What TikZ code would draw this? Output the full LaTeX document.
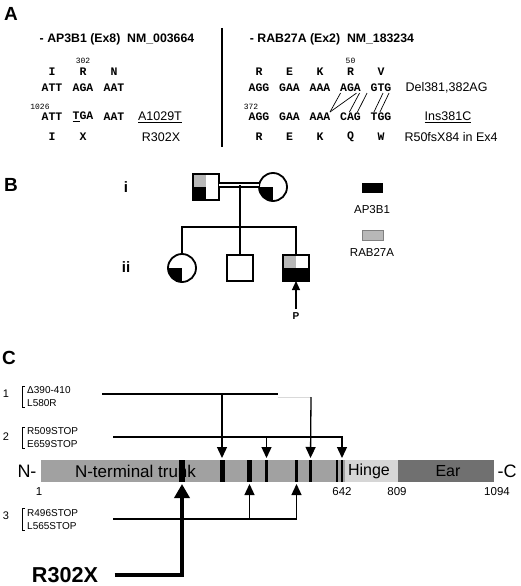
\documentclass[tikz,border=0pt]{standalone}
\usepackage{fontspec}
\setmainfont{Liberation Sans}
\setmonofont{Liberation Mono}
\usetikzlibrary{arrows.meta}
\newcommand\fsz[1]{\fontsize{#1}{#1}\selectfont}
\definecolor{trunkgray}{gray}{0.63}
\definecolor{hingegray}{gray}{0.84}
\definecolor{eargray}{gray}{0.44}
\definecolor{raggray}{gray}{0.72}
\tikzset{
  panel/.style={font=\bfseries\fsz{19}},
  hdr/.style={font=\bfseries\fsz{12.3}},
  cod/.style={font=\ttfamily\bfseries\fsz{11.5}, inner sep=1pt},
  numlab/.style={font=\ttfamily\fsz{8}},
  lab/.style={font=\fsz{12.5}},
  ped/.style={line width=1.8pt},
  male/.style={draw, line width=1.8pt, minimum size=26pt, inner sep=0pt, outer sep=0pt, fill=white},
  female/.style={male, circle, minimum size=28pt},
  qbl/.style={path picture={\fill[black] (path picture bounding box.center) rectangle (path picture bounding box.south west);}},
  father/.style={path picture={
    \fill[raggray] (path picture bounding box.center) rectangle (path picture bounding box.north west);
    \fill[black] (path picture bounding box.center) rectangle (path picture bounding box.south west);}},
  patient/.style={path picture={
    \fill[raggray] (path picture bounding box.center) rectangle (path picture bounding box.north west);
    \fill[black] (path picture bounding box.east) rectangle (path picture bounding box.south west);}},
  seg/.style={minimum height=22pt, inner sep=0pt, outer sep=0pt, anchor=west},
  stripe/.style={fill=black, minimum height=22pt, inner sep=0pt, outer sep=0pt},
  brk/.style={font=\fsz{10}, anchor=west, inner sep=0pt},
  mut/.style={line width=1.3pt},
  arr/.style={-{Triangle[length=11pt,width=10pt]}}
}
\begin{document}
\begin{tikzpicture}[x=1pt,y=-1pt]
\useasboundingbox (0,0) rectangle (520,586);
% ---- A: sequences
\node[panel] (pa) at (11,13.5) {A};
\node[hdr] (hl) at (117,39) {- AP3B1 (Ex8)~~NM\_003664};
\node[hdr] (hr) at (332,39) {- RAB27A (Ex2)~~NM\_183234};
\draw[line width=1.8pt] (222,28) -- (222,147);
\node[numlab] (n302) at (83,61) {302};
\node[numlab] (n1026) at (40,107) {1026};
\foreach \x/\t [count=\i] in {52/I,83/R,114/N} \node[cod] (la\i) at (\x,72) {\t};
\foreach \x/\t [count=\i] in {52/ATT,83/AGA,114/AAT} \node[cod] (lb\i) at (\x,88) {\t};
\foreach \x/\t [count=\i] in {52/ATT,83/\underline{T}GA,114/AAT} \node[cod] (lc\i) at (\x,117) {\t};
\foreach \x/\t [count=\i] in {52/I,83/X} \node[cod] (ld\i) at (\x,137) {\t};
\node[lab] (lmut) at (160,117) {\underline{A1029T}};
\node[lab] (lprot) at (161,137) {R302X};
% right gene
\node[numlab] (n50) at (350.5,61) {50};
\node[numlab] (n372) at (251,107) {372};
\foreach \x/\t [count=\i] in {259/R,289.5/E,320/K,350.5/R,381/V} \node[cod] (ra\i) at (\x,72) {\t};
\foreach \x/\t [count=\i] in {259/AGG,289.5/GAA,320/AAA,350.5/AGA,381/GTG} \node[cod] (rb\i) at (\x,88) {\t};
\foreach \x/\t [count=\i] in {259/AGG,289.5/GAA,320/AAA,350.5/CAG,381/TGG} \node[cod] (rc\i) at (\x,117) {\t};
\foreach \x/\t [count=\i] in {259/R,289.5/E,320/K,350.5/Q,381/W} \node[cod] (rd\i) at (\x,137) {\t};
\node[lab, anchor=west] (rdel) at (402,88) {Del381,382AG};
\node[lab] (rins) at (448,117) {\underline{Ins381C}};
\node[lab, anchor=west] (rprot) at (401,137) {R50fsX84 in Ex4};
% shifted reading frame
\draw[line width=0.7pt] ([xshift=-10pt]rb4.south) -- ([xshift=10pt]rc3.north);
\draw[line width=0.7pt] ([xshift=6pt]rb4.south) -- ([xshift=10pt]rc3.north);
\draw[line width=0.7pt] ([xshift=9pt]rb4.south) -- ([xshift=-1pt]rc4.north);
\draw[line width=0.7pt] ([xshift=-14pt]rb5.south) -- ([xshift=7pt]rc4.north);
\draw[line width=0.7pt] ([xshift=2pt]rb5.south) -- ([xshift=-7pt]rc5.north);
\draw[line width=0.7pt] ([xshift=8pt]rb5.south) -- ([xshift=-1pt]rc5.north);
% ---- B: pedigree
\node[panel] (pb) at (11,185) {B};
\node[font=\bfseries\fsz{15}] (g1) at (126,187) {i};
\node[font=\bfseries\fsz{15}] (g2) at (126,267) {ii};
\node[male, father] (fa) at (206,187) {};
\node[female, qbl] (mo) at (273,187) {};
\node[female, qbl] (d1) at (182,268) {};
\node[male] (s1) at (240,268) {};
\node[male, patient] (pt) at (296,268) {};
\draw[double, double distance=2.2pt, line width=1.6pt] ([yshift=2pt]fa.east) -- ([yshift=2pt]mo.west);
\coordinate (mid) at (240,185);
\coordinate (sib) at (240,227);
\draw[ped] (mid) -- (sib) -- (s1.north);
\draw[ped] (d1.north) -- (d1.north |- sib) -- (pt.north |- sib) -- (pt.north);
\node[font=\bfseries\fsz{10}] (plab) at (296,316) {P};
\draw[line width=1.2pt, -{Triangle[length=9pt,width=8pt]}] (plab.north) -- (pt.south);
% legend
\node[fill=black, minimum width=21pt, minimum height=10pt, inner sep=0pt] (kap) at (372,188) {};
\node[font=\fsz{11.5}] (kapt) at (372,210) {AP3B1};
\node[fill=raggray, draw=black!50, line width=0.5pt, minimum width=21pt, minimum height=10pt, inner sep=0pt] (krab) at (372.5,235.5) {};
\node[font=\fsz{11.5}] (krabt) at (372,252) {RAB27A};
% ---- C: protein
\node[panel] (pc) at (9,358) {C};
\node[font=\fsz{11}] (c1) at (6,394) {1};
\node[font=\fsz{11}] (c2) at (6,437) {2};
\node[font=\fsz{11}] (c3) at (6,516) {3};
\draw[line width=1pt] (25,386) -- (22,386) -- (22,407) -- (25,407);
\draw[line width=1pt] (25,427) -- (22,427) -- (22,448) -- (25,448);
\draw[line width=1pt] (25,508) -- (22,508) -- (22,530) -- (25,530);
\node[brk] (t1a) at (27,390) {Δ390-410};
\node[brk] (t1b) at (27,403) {L580R};
\node[brk] (t2a) at (27,431) {R509STOP};
\node[brk] (t2b) at (27,444) {E659STOP};
\node[brk] (t3a) at (27,513) {R496STOP};
\node[brk] (t3b) at (27,526) {L565STOP};
% domains
\node[seg, fill=trunkgray, minimum width=304pt] (trunk) at (41,471) {};
\node[seg, fill=hingegray, minimum width=53pt] (hinge) at (345,471) {};
\node[seg, fill=eargray, minimum width=96pt] (ear) at (398,471) {};
\node[font=\fsz{18}] (nend) at (27,471) {N-};
\node[font=\fsz{18}] (cend) at (507,471) {-C};
\node[font=\fsz{17}] (ttrunk) at (135.5,471) {N-terminal trunk};
\node[font=\fsz{16}] (thinge) at (369,471) {Hinge};
\node[font=\fsz{16}] (tear) at (448,471) {Ear};
\foreach \x/\t in {39/1,342/642,397/809,497/1094} \node[font=\fsz{11.5}] at (\x,492) {\t};
\foreach \x/\w [count=\i] in {182/6,222/5,249.5/5,266.5/3,296.5/3,310.5/3,337/2.5,342/2.5}
  \node[stripe, minimum width=\w pt] (m\i) at (\x,471) {};
% mutation groups
\coordinate (l1a) at (102,394);
\coordinate (l1b) at (278,394);
\coordinate (l1c) at (311,397);
\draw[mut] (l1a) -- (l1b);
\draw[gray!30, line width=0.6pt] (l1c -| l1b) -- (l1c);
\draw[mut, arr, shorten >=2pt] (m2.north |- l1a) -- (m2.north);
\draw[mut, arr, shorten >=2pt] (l1c) -- (m6.north);
\coordinate (l2a) at (113,437);
\draw[mut, arr, shorten >=2pt] (l2a) -| (m8.north);
\draw[mut, arr, shorten >=2pt] (m4.north |- l2a) -- (m4.north);
\coordinate (l3a) at (113,519);
\draw[mut, arr, shorten >=2pt] (l3a) -| (m5.south);
\draw[mut, arr, shorten >=2pt] (m3.south |- l3a) -- (m3.south);
% R302X
\node[font=\bfseries\fsz{21.6}] (rx) at (65,575) {R302X};
\draw[line width=4pt, -{Triangle[length=14pt,width=15pt]}, shorten <=13pt, shorten >=2pt] (rx.east) -| (m1.south);
\end{tikzpicture}
\end{document}
